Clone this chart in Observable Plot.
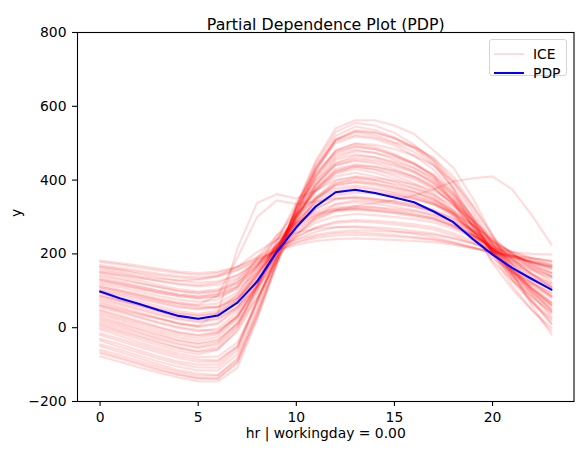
<!DOCTYPE html>
<html><head><meta charset="utf-8">
<script src="https://cdn.jsdelivr.net/npm/d3@7"></script>
<script src="https://cdn.jsdelivr.net/npm/@observablehq/plot@0.6"></script>
<style>
body{margin:0;background:#fff;font-family:"DejaVu Sans",sans-serif;}
#wrap{position:relative;width:583px;height:455px;}
.legend{position:absolute;left:489px;top:39px;width:78px;height:37px;border:1px solid #d4d4d4;border-radius:3px;background:rgba(255,255,255,0.8);box-sizing:border-box;font-size:13.9px;color:#000;}
.sw{position:absolute;left:4px;width:30px;height:2px;}
.lt{position:absolute;left:43px;line-height:16px;}
</style></head>
<body><div id="wrap"></div>
<script>
const title = "Partial Dependence Plot (PDP)";
const xLabel = "hr | workingday = 0.00";
const yLabel = "y";
const xTicks = [0, 5, 10, 15, 20];
const yTicks = [-200, 0, 200, 400, 600, 800];
const hours = [0,1,2,3,4,5,6,7,8,9,10,11,12,13,14,15,16,17,18,19,20,21,22,23];
const pdp = [98,80,64,47,32,24,33,68,125,205,272,329,367,374,365,353,340,315,286,240,198,162,132,103];
const ice = [
[182,175,168,160,152,148,152,165,188,208,225,235,240,242,240,238,235,232,225,215,205,196,188,180],
[170,162,155,146,140,136,142,158,185,210,230,243,250,252,250,247,243,238,228,216,204,192,182,172],
[160,150,140,132,128,130,138,155,182,208,232,248,256,258,255,251,246,240,230,217,203,190,178,166],
[178,171,163,155,148,143,148,164,192,218,238,252,260,264,262,260,257,252,242,228,215,205,200,198],
[150,143,135,127,120,115,122,142,178,212,240,260,272,275,272,268,262,255,243,228,210,194,180,168],
[165,156,146,136,128,122,126,142,175,212,246,270,284,288,285,280,274,266,250,230,208,190,176,164],
[155,146,136,126,117,112,116,134,170,210,246,272,288,292,290,286,280,272,256,236,212,192,178,166],
[140,130,120,110,100,95,100,122,165,212,255,285,302,308,305,300,294,285,268,245,218,195,175,158],
[130,118,106,95,85,80,86,112,165,240,285,310,322,324,320,314,306,295,274,247,215,188,166,148],
[120,110,98,86,76,70,76,110,190,250,285,315,334,340,336,328,318,304,280,250,214,184,160,140],
[145,134,122,110,99,92,98,125,172,225,272,306,326,330,326,318,310,298,278,250,220,196,178,163],
[110,98,86,74,63,57,55,80,145,218,280,322,348,352,346,338,328,312,286,252,212,180,154,133],
[125,116,105,95,86,80,84,105,150,205,255,292,316,322,318,312,305,296,276,250,222,198,178,160],
[105,94,82,70,58,52,58,88,145,212,276,322,350,356,350,342,332,316,290,254,216,184,158,136],
[115,103,91,79,68,62,88,190,300,345,335,342,350,352,348,342,334,320,296,262,226,192,164,140],
[135,124,112,100,90,84,92,120,168,222,268,300,320,330,338,346,358,375,396,405,410,375,305,225],
[100,86,72,58,45,38,46,90,165,250,310,350,378,385,378,368,356,338,306,262,216,178,146,118],
[90,75,60,45,32,25,34,74,142,222,300,356,392,400,392,380,366,345,310,262,212,170,136,108],
[80,66,52,38,25,18,25,55,110,180,270,350,398,408,400,386,370,346,318,280,235,185,145,110],
[70,56,41,26,12,4,13,55,130,218,305,370,410,420,410,396,378,352,312,260,205,160,124,92],
[95,80,66,52,40,33,40,76,140,215,288,340,372,380,374,364,352,334,302,258,214,176,146,120],
[60,45,30,15,2,-6,-8,30,110,215,305,374,418,430,420,404,386,358,316,262,204,156,118,85],
[85,72,58,44,30,22,30,70,140,222,298,352,386,394,386,374,360,340,306,260,212,172,140,112],
[55,42,27,12,-1,-10,-2,42,120,210,300,372,420,436,428,412,392,364,320,264,204,154,114,80],
[75,62,48,34,22,15,22,58,126,208,290,350,386,395,390,380,368,350,310,250,190,150,120,96],
[60,48,36,24,12,5,40,215,338,362,350,372,400,410,405,398,388,372,340,290,236,186,146,110],
[40,25,10,-6,-20,-28,-18,30,115,212,310,390,440,452,445,430,410,380,332,270,206,150,106,68],
[30,14,-2,-18,-33,-42,-32,10,80,175,290,390,455,470,462,446,424,392,340,274,206,146,100,60],
[20,5,-12,-28,-42,-52,-40,12,104,210,318,408,466,482,474,456,434,400,346,276,205,142,94,52],
[10,-6,-22,-38,-54,-64,-52,2,110,235,340,420,476,492,484,466,442,408,340,255,180,128,84,42],
[35,20,4,-12,-26,-35,-25,24,112,210,308,388,440,455,450,438,420,392,342,278,210,152,108,70],
[0,-15,-32,-48,-63,-72,-60,-5,94,206,320,416,480,498,490,470,446,410,354,282,204,136,84,38],
[48,34,18,2,-12,-20,-12,34,116,210,302,378,424,436,430,418,402,376,334,276,212,160,120,86],
[25,10,-6,-22,-36,-45,-36,14,100,200,300,380,430,442,436,424,406,380,336,280,212,150,104,62],
[-5,-22,-40,-56,-70,-80,-78,-40,70,204,318,412,472,490,484,468,446,414,360,288,210,142,90,45],
[-20,-36,-52,-68,-82,-92,-92,-50,65,190,322,428,500,518,512,494,466,428,366,288,204,130,72,25],
[-35,-52,-68,-84,-98,-108,-108,-62,72,196,324,434,510,530,522,502,490,460,410,330,245,160,90,30],
[-45,-60,-76,-92,-106,-116,-116,-72,50,194,326,436,506,522,516,500,476,440,378,296,206,128,68,20],
[-50,-66,-83,-100,-115,-125,-128,-88,42,180,326,440,520,545,536,516,486,444,376,270,175,105,48,0],
[-65,-80,-96,-112,-126,-136,-138,-96,32,182,330,448,530,555,548,528,496,452,380,294,198,114,48,-8],
[-78,-92,-108,-122,-135,-145,-146,-108,22,175,332,454,540,562,562,548,525,480,434,350,250,150,60,-18],
[165,158,150,142,136,132,140,165,205,238,258,268,272,272,268,262,255,246,232,218,205,195,188,182],
[100,90,78,66,55,50,55,80,130,190,250,300,335,345,342,336,328,316,296,266,232,200,172,150],
[65,52,38,24,10,2,10,50,120,200,280,345,390,405,400,390,378,360,330,290,245,200,160,125],
[-30,-45,-62,-78,-92,-100,-100,-55,70,190,310,410,480,500,496,484,466,440,396,330,252,170,100,45],
[-60,-74,-90,-106,-120,-130,-130,-82,38,175,310,430,510,535,530,512,488,452,392,310,220,140,70,10],
[150,140,128,116,105,98,104,130,185,240,280,305,318,320,316,310,302,292,274,250,225,205,190,178],
[45,30,15,0,-14,-22,-14,30,110,205,300,375,425,440,436,426,410,386,346,292,230,172,124,85],
[15,0,-16,-32,-46,-55,-45,5,110,235,330,400,445,460,455,442,424,396,350,288,218,156,108,66],
[130,121,110,100,90,85,90,112,160,215,262,296,318,326,326,322,316,306,288,262,232,206,186,170],
[-15,-30,-46,-62,-76,-86,-88,-50,76,190,306,400,460,478,474,462,444,414,366,300,224,154,98,50],
[85,74,62,50,38,32,40,80,150,225,290,336,364,372,368,360,350,336,312,278,238,200,168,140],
[5,-10,-26,-42,-56,-66,-58,-10,80,185,296,385,446,466,462,450,432,404,360,298,228,160,106,60],
[-70,-84,-100,-116,-128,-138,-138,-92,28,170,306,426,508,532,528,514,492,458,400,320,230,145,75,12],
[110,100,88,76,66,60,66,96,155,222,284,330,358,366,364,358,348,334,310,276,238,202,172,148]
];

const iceRows = ice.flatMap((vals, id) => vals.map((v, i) => ({id, hr: hours[i], v})));
const pdpRows = pdp.map((v, i) => ({hr: hours[i], v}));

const chart = Plot.plot({
  width: 583, height: 455,
  marginLeft: 77, marginRight: 9.5, marginTop: 32, marginBottom: 54,
  style: {fontFamily: "'DejaVu Sans', sans-serif", fontSize: "13.9px", color: "black", background: "white", overflow: "visible"},
  x: {domain: [-1.15, 24.15]},
  y: {domain: [-200, 800]},
  marks: [
    Plot.line(iceRows, {x: "hr", y: "v", z: "id", stroke: "red", strokeOpacity: 0.14, strokeWidth: 2.08}),
    Plot.line(pdpRows, {x: "hr", y: "v", stroke: "blue", strokeWidth: 2.08}),
    Plot.frame({stroke: "black", strokeWidth: 1.1}),
    Plot.axisX({ticks: xTicks, tickSize: 5, tickPadding: 6, label: null, strokeWidth: 1.1}),
    Plot.axisY({ticks: yTicks, tickSize: 5, tickPadding: 6, label: null, strokeWidth: 1.1}),
    Plot.text([xLabel], {text: d => d, frameAnchor: "bottom", dy: 36, fontSize: 13.9}),
    Plot.text([yLabel], {text: d => d, frameAnchor: "left", dx: -61, rotate: -90, fontSize: 13.9}),
    Plot.text([title], {text: d => d, frameAnchor: "top", dy: -14, fontSize: 15.8})
  ]
});
const wrap = document.getElementById("wrap");
wrap.appendChild(chart);
const lg = document.createElement("div");
lg.className = "legend";
lg.innerHTML = '<div class="sw" style="top:13px;background:rgba(255,0,0,0.14)"></div><div class="lt" style="top:6px">ICE</div>' +
  '<div class="sw" style="top:32px;background:blue"></div><div class="lt" style="top:25px">PDP</div>';
wrap.appendChild(lg);
</script></body></html>
